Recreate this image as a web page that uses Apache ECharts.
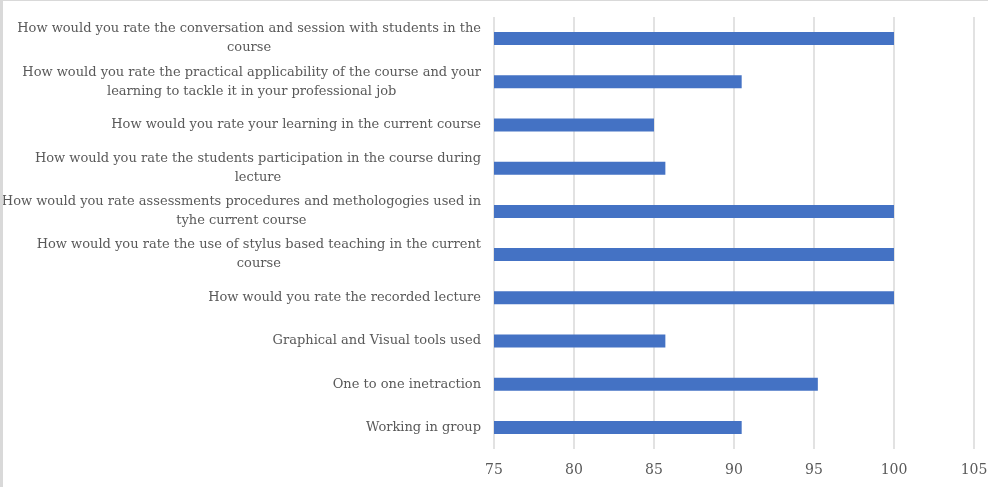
<!DOCTYPE html>
<html>
<head>
<meta charset="utf-8">
<script src="https://cdn.jsdelivr.net/npm/echarts@6/dist/echarts.min.js"></script>
<style>
  html, body { margin: 0; padding: 0; background: #fff; }
  #chart {
    width: 985px;
    height: 486px;
    border-top: 1px solid #d9d9d9;
    border-left: 3px solid #d9d9d9;
  }
</style>
</head>
<body>
<div id="chart"></div>
<script>
// questions, top to bottom
var questions = [
  'How would you rate the conversation and session with students in the\ncourse',
  'How would you rate the practical applicability of the course and your\nlearning to tackle it in your professional job',
  'How would you rate your learning in the current course',
  'How would you rate the students participation in the course during\nlecture',
  'How would you rate assessments procedures and methologogies used in\ntyhe current course',
  'How would you rate the use of stylus based teaching in the current\ncourse',
  'How would you rate the recorded lecture',
  'Graphical and Visual tools used',
  'One to one inetraction',
  'Working in group'
];
var scores = [100, 90.48, 85, 85.71, 100, 100, 100, 85.71, 95.24, 90.48];

var axisMin = 75, axisMax = 105, axisStep = 5;

// category axis runs bottom-up, so reverse
var cats = questions.slice().reverse();
var vals = scores.slice().reverse();

var chart = echarts.init(document.getElementById('chart'));
var option = {
  animation: false,
  grid: { left: 491, right: 14, top: 16, bottom: 38, outerBoundsMode: 'none' },
  xAxis: {
    type: 'value',
    min: axisMin,
    max: axisMax,
    interval: axisStep,
    axisLine: { show: false },
    axisTick: { show: false },
    axisLabel: {
      color: '#595959',
      fontFamily: 'DejaVu Serif',
      fontSize: 14,
      margin: 14
    },
    splitLine: { lineStyle: { color: '#d9d9d9', width: 1.5 } }
  },
  yAxis: {
    type: 'category',
    data: cats,
    axisLine: { show: false },
    axisTick: { show: false },
    axisLabel: {
      color: '#595959',
      fontFamily: 'DejaVu Serif',
      fontSize: 13,
      lineHeight: 19,
      margin: 13,
      formatter: function (v) {
        return v.split('\n').map(function (s) { return '{c|' + s + '}'; }).join('\n');
      },
      rich: {
        c: { align: 'center', color: '#595959', fontFamily: 'DejaVu Serif', fontSize: 13, lineHeight: 19 }
      }
    }
  },
  series: [{
    type: 'bar',
    data: vals,
    barWidth: 13,
    itemStyle: { color: '#4472c4' }
  }]
};
chart.setOption(option);
</script>
</body>
</html>
